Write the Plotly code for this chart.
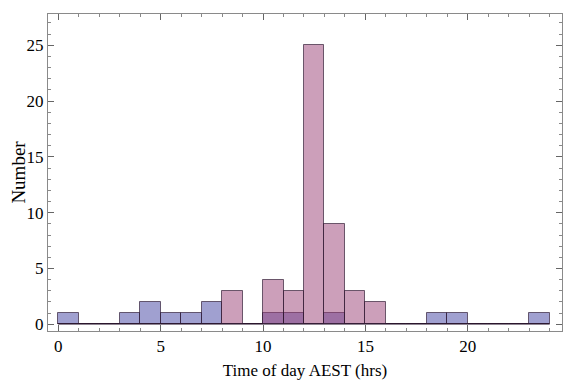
import plotly.graph_objects as go

# Bin left edges (hours) and counts per 1-hour bin
bin_edges = list(range(0, 24))
blue_counts = [1, 0, 0, 1, 2, 1, 1, 2, 0, 0, 1, 1, 0, 1, 0, 0, 0, 0, 1, 1, 0, 0, 0, 1]
pink_counts = [0, 0, 0, 0, 0, 0, 0, 0, 3, 0, 4, 3, 25, 9, 3, 2, 0, 0, 0, 0, 0, 0, 0, 0]

x_title = "Time of day AEST (hrs)"
y_title = "Number"

centers = [e + 0.5 for e in bin_edges]
font_family = "Liberation Serif, Times New Roman, serif"
edge = "rgba(40,20,45,0.65)"

fig = go.Figure()
# baseline for zero-height bins
fig.add_trace(go.Scatter(x=[bin_edges[0], bin_edges[-1] + 1], y=[0, 0], mode="lines",
                         line=dict(color=edge, width=1), hoverinfo="skip", showlegend=False))
fig.add_trace(go.Bar(x=centers, y=blue_counts, width=1,
                     marker=dict(color="rgba(65,65,161,0.5)", line=dict(color=edge, width=1)),
                     showlegend=False))
fig.add_trace(go.Bar(x=centers, y=pink_counts, width=1,
                     marker=dict(color="rgba(153,63,117,0.5)", line=dict(color=edge, width=1)),
                     showlegend=False))

axis_common = dict(showgrid=False, zeroline=False, showline=True, linecolor="#8a8a8a",
                   linewidth=1, mirror="allticks", ticks="inside", tickcolor="#666",
                   automargin=False,
                   tickfont=dict(family=font_family, size=17, color="black"))

fig.update_layout(
    width=565, height=372,
    margin=dict(l=40, r=11, t=6, b=49),
    paper_bgcolor="white", plot_bgcolor="white",
    barmode="overlay", bargap=0,
    font=dict(family=font_family, size=17, color="black"),
    xaxis=dict(range=[-0.5, 24.6], tickvals=[0, 5, 10, 15, 20], ticklen=6,
               minor=dict(dtick=1, tick0=0, ticklen=3, ticks="inside", tickcolor="#888"),
               title=dict(text=x_title, font=dict(family=font_family, size=17)),
               **axis_common),
    yaxis=dict(range=[-0.6, 27.8], tickvals=[0, 5, 10, 15, 20, 25], ticklen=6,
               minor=dict(dtick=1, tick0=0, ticklen=3, ticks="inside", tickcolor="#888"),
               title=dict(text=y_title, font=dict(family=font_family, size=19), standoff=16),
               **axis_common),
)

fig.write_html("out.html")
